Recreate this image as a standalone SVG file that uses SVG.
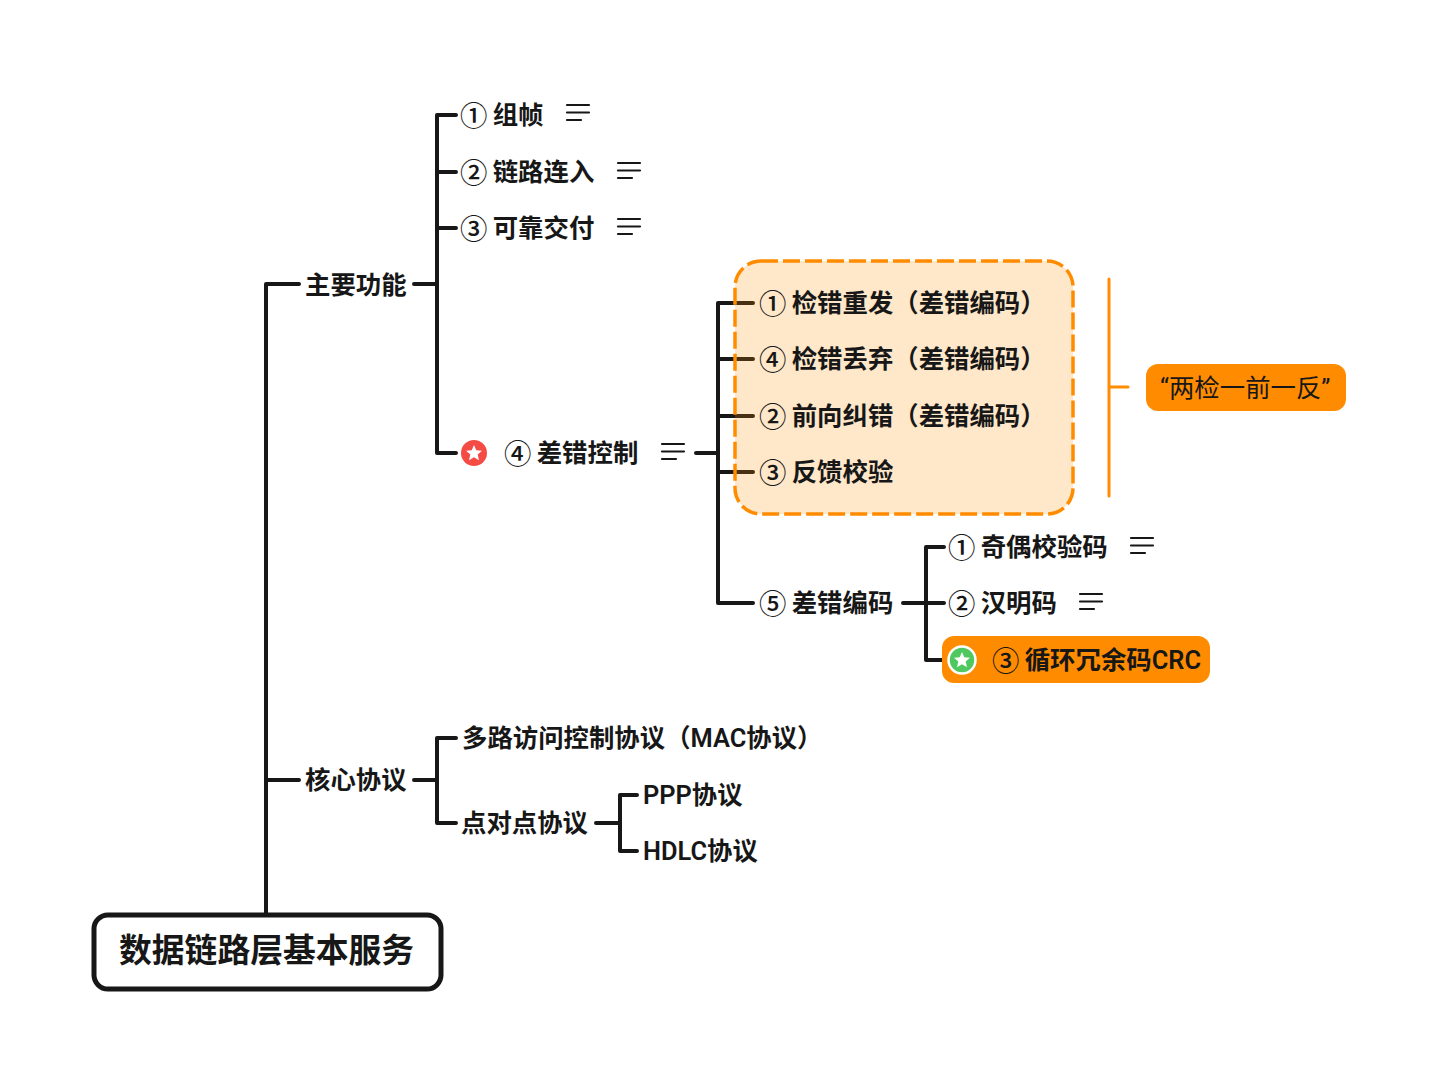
<svg xmlns="http://www.w3.org/2000/svg" width="1437" height="1080" viewBox="0 0 1437 1080">
<style>
text{font-family:"Roboto","Noto Sans CJK SC","Noto Sans",sans-serif;fill:#171717;font-size:25.4px;font-weight:600;dominant-baseline:central}
.d{font-family:"Noto Sans CJK SC",sans-serif;font-weight:500;font-size:27.400px}
.c{fill:none;stroke:#171717;stroke-width:4;stroke-linecap:round;stroke-linejoin:round}
.o{fill:none;stroke:#ff8c00;stroke-width:3;stroke-linecap:round}
.n{fill:none;stroke:#171717;stroke-width:2.200;stroke-linecap:round}
</style>
<defs>
<g id="note"><path class="n" d="M1 0H23M1 7.500H23M1 15H15"/></g>
<polygon id="star" fill="#fff" points="0,-8 2.300,-2.700 8,-2.200 3.700,1.500 5,7.200 0,4.200 -5,7.200 -3.700,1.500 -8,-2.200 -2.300,-2.700"/>
</defs>
<g id="connectors">
<path class="c" d="M266 913V284H299M414 284H437M437 115V453M437 115H456M437 172H456M437 228H456M437 453H456"/>
<path class="c" d="M266 780H299M414 780H437M437 738V823M437 738H456M437 823H456M596 823H620M620 795V851M620 795H637M620 851H637"/>
<path class="c" d="M696 453H718M718 303V603M718 303H753M718 359H753M718 416H753M718 472H753M718 603H753"/>
<path class="c" d="M903 603H926M926 547V660M926 547H944M926 603H944M926 660H943"/>
<path class="o" d="M1109 279V496M1109 387H1128"/>
</g>
<g id="summary-box"><rect x="735" y="261" width="338" height="253" rx="26" fill="#ff8c00" fill-opacity=".21" stroke="#ff8c00" stroke-width="3.500" stroke-dasharray="17 5"/></g>
<g id="root"><rect x="94" y="915" width="347" height="74" rx="14" fill="#fff" stroke="#171717" stroke-width="5"/><text x="119" y="951" style="font-size:32.800px">数据链路层基本服务</text></g>
<g id="n1"><text x="305" y="285">主要功能</text></g>
<g id="n2"><text x="305" y="780">核心协议</text></g>
<g id="n11"><text x="460" y="115"><tspan class="d" dy="-1">①</tspan><tspan dx="-1" dy="1"> 组帧</tspan></text><use href="#note" x="566" y="105"/></g>
<g id="n12"><text x="460" y="172"><tspan class="d" dy="-1">②</tspan><tspan dx="-1" dy="1"> 链路连入</tspan></text><use href="#note" x="617" y="163"/></g>
<g id="n13"><text x="460" y="228"><tspan class="d" dy="-1">③</tspan><tspan dx="-1" dy="1"> 可靠交付</tspan></text><use href="#note" x="617" y="219"/></g>
<g id="n14"><circle cx="474" cy="453" r="13" fill="#f44b45"/><use href="#star" x="474" y="453"/><text x="504" y="453"><tspan class="d" dy="-1">④</tspan><tspan dx="-1" dy="1"> 差错控制</tspan></text><use href="#note" x="661" y="444"/></g>
<g id="n141"><text x="759" y="303"><tspan class="d" dy="-1">①</tspan><tspan dx="-1" dy="1"> 检错重发（差错编码）</tspan></text></g>
<g id="n142"><text x="759" y="359"><tspan class="d" dy="-1">④</tspan><tspan dx="-1" dy="1"> 检错丢弃（差错编码）</tspan></text></g>
<g id="n143"><text x="759" y="416"><tspan class="d" dy="-1">②</tspan><tspan dx="-1" dy="1"> 前向纠错（差错编码）</tspan></text></g>
<g id="n144"><text x="759" y="472"><tspan class="d" dy="-1">③</tspan><tspan dx="-1" dy="1"> 反馈校验</tspan></text></g>
<g id="n145"><text x="759" y="603"><tspan class="d" dy="-1">⑤</tspan><tspan dx="-1" dy="1"> 差错编码</tspan></text></g>
<g id="n1451"><text x="948" y="547"><tspan class="d" dy="-1">①</tspan><tspan dx="-1" dy="1"> 奇偶校验码</tspan></text><use href="#note" x="1130" y="538"/></g>
<g id="n1452"><text x="948" y="603"><tspan class="d" dy="-1">②</tspan><tspan dx="-1" dy="1"> 汉明码</tspan></text><use href="#note" x="1079" y="594"/></g>
<g id="n1453"><rect x="942" y="636" width="268" height="47" rx="12" fill="#ff8c00"/><circle cx="962" cy="660" r="13.500" fill="#4fc95f" stroke="#fff" stroke-width="2.500"/><use href="#star" x="962" y="660"/><text x="992" y="660"><tspan class="d" dy="-1">③</tspan><tspan dx="-1" dy="1"> 循环冗余码CRC</tspan></text></g>
<g id="n21"><text x="462" y="738">多路访问控制协议（MAC协议）</text></g>
<g id="n22"><text x="461" y="823">点对点协议</text></g>
<g id="n221"><text x="643" y="795">PPP协议</text></g>
<g id="n222"><text x="643" y="851">HDLC协议</text></g>
<g id="summary"><rect x="1146" y="364" width="200" height="47" rx="12" fill="#ff8c00"/><text x="1160" y="388" style="font-weight:400">“两检一前一反”</text></g>
</svg>
